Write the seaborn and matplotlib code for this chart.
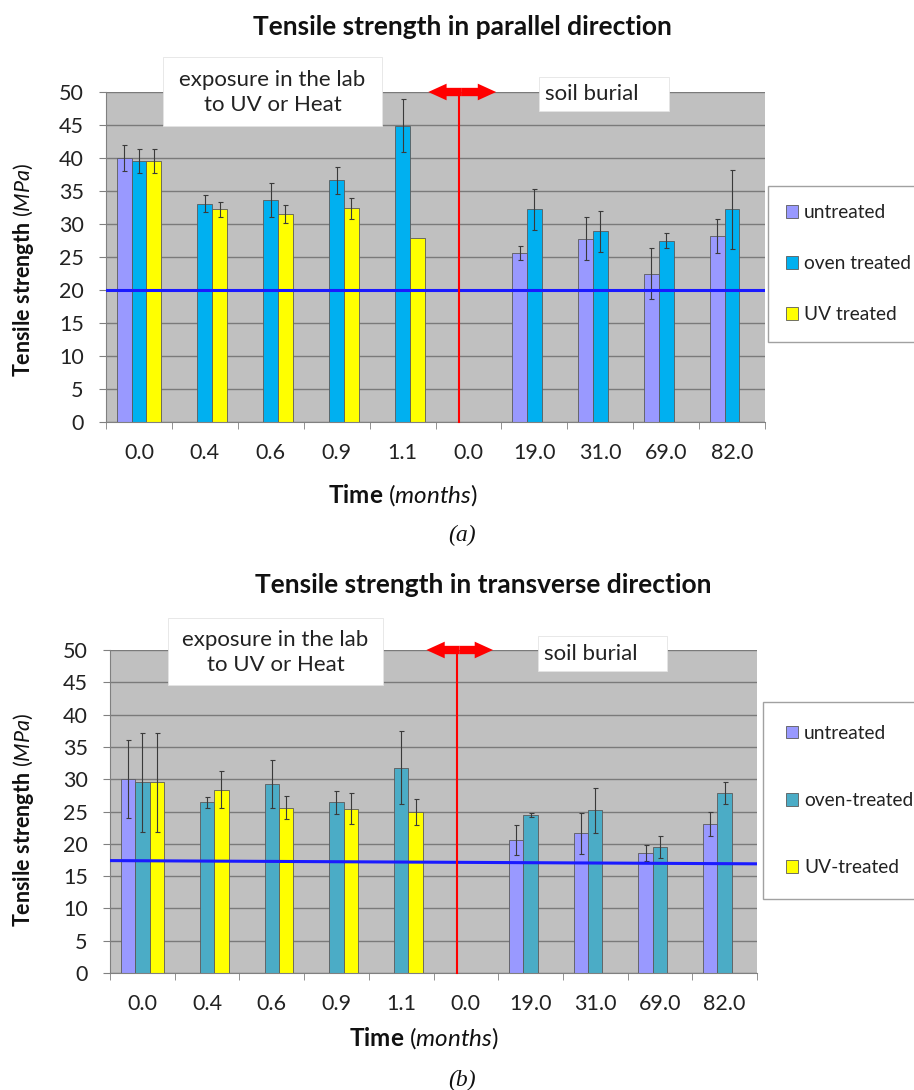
import numpy as np
import pandas as pd
import matplotlib
matplotlib.use("Agg")
import matplotlib.pyplot as plt
import matplotlib.patches as mpatches
import seaborn as sns

# ---------------- data ----------------
nan = np.nan
time_labels = ["0.0", "0.4", "0.6", "0.9", "1.1", "0.0", "19.0", "31.0", "69.0", "82.0"]
slots = list(range(len(time_labels)))

# (a) parallel direction
untreated_a = [40.0, nan, nan, nan, nan, nan, 25.6, 27.8, 22.5, 28.2]
untreated_a_err = [2.0, nan, nan, nan, nan, nan, 1.1, 3.2, 3.9, 2.6]
oven_a = [39.5, 33.1, 33.6, 36.6, 44.9, nan, 32.2, 28.9, 27.5, 32.2]
oven_a_err = [1.8, 1.3, 2.6, 2.0, 4.0, nan, 3.1, 3.1, 1.2, 6.0]
uv_a = [39.5, 32.2, 31.5, 32.4, 27.9, nan, nan, nan, nan, nan]
uv_a_err = [1.8, 1.2, 1.4, 1.6, nan, nan, nan, nan, nan, nan]
labels_a = ["untreated", "oven treated", "UV treated"]
limit_a = (20.0, 20.0)

# (b) transverse direction
untreated_b = [30.0, nan, nan, nan, nan, nan, 20.6, 21.6, 18.6, 23.1]
untreated_b_err = [6.0, nan, nan, nan, nan, nan, 2.3, 3.2, 1.2, 1.9]
oven_b = [29.5, 26.4, 29.2, 26.4, 31.8, nan, 24.5, 25.2, 19.5, 27.8]
oven_b_err = [7.6, 0.9, 3.7, 1.8, 5.6, nan, 0.3, 3.5, 1.7, 1.7]
uv_b = [29.5, 28.4, 25.6, 25.4, 24.9, nan, nan, nan, nan, nan]
uv_b_err = [7.6, 2.9, 1.8, 2.4, 2.0, nan, nan, nan, nan, nan]
labels_b = ["untreated", "oven-treated", "UV-treated"]
limit_b = (17.4, 16.9)

# ---------------- style ----------------
plt.rcParams["font.family"] = ["Lato", "DejaVu Sans"]
plt.rcParams["mathtext.fontset"] = "custom"
plt.rcParams["mathtext.rm"] = "Lato"
plt.rcParams["mathtext.it"] = "Lato:italic"
plt.rcParams["mathtext.bf"] = "Lato:bold"

W, H = 914, 1090
fig = plt.figure(figsize=(W / 100, H / 100), dpi=100)


def fx(x):
    return x / W


def fy(y):
    return 1 - y / H


def panel(box, series, errs, names, colors, limit, title, title_xy,
          xlabel_xy, tag, tag_xy, lab_box, soil_box, legend_box, legend_spacing,
          legend_pad, ylab_y):
    left, top, right, bottom = box
    ax = fig.add_axes([fx(left), fy(bottom), fx(right - left), (bottom - top) / H])
    rows = []
    for name, vals in zip(names, series):
        for s, v in zip(slots, vals):
            rows.append({"slot": s, "value": v, "series": name})
    df = pd.DataFrame(rows)
    sns.barplot(data=df, x="slot", y="value", hue="series", order=slots,
                hue_order=names, palette=colors, saturation=1, errorbar=None,
                width=0.67, gap=0, edgecolor="#5a5a5a", linewidth=0.6, ax=ax,
                zorder=2)
    # error bars from bar geometry
    for cont, err in zip(ax.containers, errs):
        xs, ys, es = [], [], []
        for bar in cont:
            h = bar.get_height()
            if not np.isfinite(h):
                continue
            xc = bar.get_x() + bar.get_width() / 2
            e = err[int(round(xc))]
            if np.isfinite(e):
                xs.append(xc); ys.append(h); es.append(e)
        ax.errorbar(xs, ys, yerr=es, fmt="none", ecolor="#3a3a3a",
                    elinewidth=0.8, capsize=1.8, capthick=0.8, zorder=4)
    handles, _ = ax.get_legend_handles_labels()
    ax.get_legend().remove()

    ax.set_facecolor("#c0c0c0")
    ax.set_xlim(-0.5, len(slots) - 0.5)
    ax.set_ylim(0, 50)
    ax.set_yticks(np.arange(0, 51, 5))
    ax.yaxis.grid(True, color="#7a7a7a", linewidth=1.0)
    ax.set_axisbelow(True)
    for sp in ["top", "right"]:
        ax.spines[sp].set_visible(False)
    for sp in ["left", "bottom"]:
        ax.spines[sp].set_color("#808080")
    ax.set_xticks(slots)
    ax.set_xticklabels(time_labels)
    ax.set_xticks(np.arange(-0.5, len(slots), 1.0), minor=True)
    ax.tick_params(axis="x", which="major", length=0, pad=15, labelsize=15.5, colors="#222222")
    ax.tick_params(axis="x", which="minor", length=5, color="#808080", direction="out")
    ax.tick_params(axis="y", length=5, color="#808080", pad=11, labelsize=15.5,
                   labelcolor="#222222")
    ax.set_xlabel("")
    ax.set_ylabel("")

    # threshold line
    ax.plot([-0.5, len(slots) - 0.5], list(limit), color="#1a1aff", lw=2.2, zorder=5)
    # separation line and arrow
    ax.plot([4.86, 4.86], [0, 50], color="#ff0000", lw=1.5, zorder=5, clip_on=False)
    for end in (4.39, 5.42):
        ax.annotate("", xy=(end, 50), xytext=(4.9, 50), annotation_clip=False,
                    arrowprops=dict(arrowstyle="simple,head_length=1.1,head_width=1.0,tail_width=0.5",
                                    mutation_scale=12, color="#ff0000", lw=0,
                                    shrinkA=0, shrinkB=0), zorder=7)

    # annotation boxes
    x0, y0, x1, y1 = lab_box
    fig.add_artist(mpatches.Rectangle((fx(x0), fy(y1)), fx(x1 - x0), (y1 - y0) / H,
                                      transform=fig.transFigure, facecolor="white",
                                      edgecolor="#e4e4e4", lw=0.6, zorder=6))
    fig.text(fx((x0 + x1) / 2), fy((y0 + y1) / 2 + 1), "exposure in the lab\nto UV or Heat",
             ha="center", va="center", fontsize=16, color="#222222", linespacing=1.3, zorder=7)
    x0, y0, x1, y1 = soil_box
    fig.add_artist(mpatches.Rectangle((fx(x0), fy(y1)), fx(x1 - x0), (y1 - y0) / H,
                                      transform=fig.transFigure, facecolor="white",
                                      edgecolor="#e4e4e4", lw=0.6, zorder=6))
    fig.text(fx(x0 + 6), fy((y0 + y1) / 2), "soil burial", ha="left", va="center",
             fontsize=16, color="#222222", zorder=7)

    # texts
    fig.text(fx(title_xy[0]), fy(title_xy[1]), title, ha="center", va="center",
             fontsize=19, fontweight="bold", color="#111111")
    fig.text(fx(24), fy(ylab_y), r"$\mathbf{Tensile\ strength}\ \mathit{(MPa)}$",
             rotation=90, ha="center", va="center", fontsize=15.5, color="#111111")
    fig.text(fx(xlabel_xy[0]), fy(xlabel_xy[1]), r"$\mathbf{Time}\ \mathit{(months)}$",
             ha="center", va="center", fontsize=17.5, color="#111111")
    fig.text(fx(tag_xy[0]), fy(tag_xy[1]), tag, ha="center", va="center", fontsize=17,
             family="Liberation Serif", style="italic", color="#111111")

    leg = fig.legend(handles, names, loc="upper left",
                     bbox_to_anchor=(fx(legend_box[0]), fy(legend_box[1])),
                     bbox_transform=fig.transFigure, frameon=True, fancybox=False,
                     edgecolor="#8a8a8a", fontsize=13.8, handlelength=0.62, handleheight=0.62,
                     handletextpad=0.32, borderpad=legend_pad, labelspacing=legend_spacing,
                     borderaxespad=0)
    leg.get_frame().set_linewidth(1.0)
    for t in leg.get_texts():
        t.set_color("#222222")
    return ax


panel((106, 92, 765, 422), [untreated_a, oven_a, uv_a], [untreated_a_err, oven_a_err, uv_a_err],
      labels_a, ["#9999ff", "#00b0f0", "#ffff00"], limit_a,
      "Tensile strength in parallel direction", (462, 27), (403, 495), "(a)", (462, 535),
      (163, 57, 382, 126), (539, 77, 669, 111), (768, 186), 1.78, 0.95, 270)

panel((110, 650, 757, 973), [untreated_b, oven_b, uv_b], [untreated_b_err, oven_b_err, uv_b_err],
      labels_b, ["#9999ff", "#4bacc6", "#ffff00"], limit_b,
      "Tensile strength in transverse direction", (483, 585), (424, 1038), "(b)", (462, 1080),
      (168, 618, 383, 685), (538, 636, 667, 671), (763, 702), 2.62, 1.2, 820)

fig.savefig("out.png", dpi=100, facecolor="white")
